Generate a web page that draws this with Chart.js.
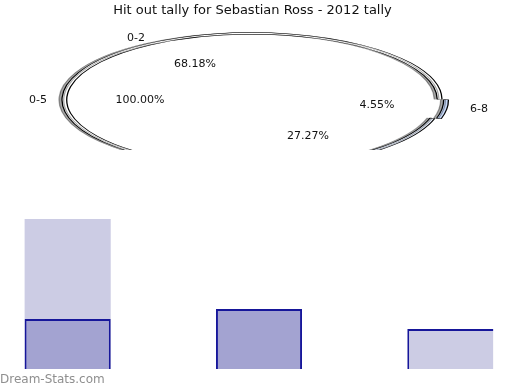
<!DOCTYPE html>
<html>
<head>
<meta charset="utf-8">
<script src="https://cdn.jsdelivr.net/npm/chart.js@4"></script>
<style>
    body { margin: 0; width: 520px; height: 390px; overflow: hidden; background: #fff; position: relative; font-family: "DejaVu Sans", sans-serif; }
    #pie-chart { position: absolute; left: 0; top: 0; width: 520px; height: 390px; }
    #bar-wrap { position: absolute; left: -28px; top: 199px; width: 574px; height: 170px; }
    #credit { position: absolute; left: 0; top: 372px; font-size: 12px; color: #8f8f8f; }
</style>
</head>
<body>
<canvas id="pie-chart" width="520" height="390"></canvas>
<div id="bar-wrap"><canvas id="bar-chart"></canvas></div>
<div id="credit">Dream-Stats.com</div>
<script>
// chart data
const titleText = 'Hit out tally for Sebastian Ross - 2012 tally';
const sliceNames = ['0-2', '6-8', '3-5'];
const sliceValues = [68.18, 4.55, 27.27];
const rangeLabels = ['0-2', '0-5', '6-8'];
const pctLabels = ['68.18%', '100.00%', '4.55%', '27.27%'];
const barCategories = ['0-2', '3-5', '6-8'];
const barLight = [15, null, 4];
const barDark = [5, 6, null];

document.addEventListener('DOMContentLoaded', function() {
    // squash the doughnut into a flat ellipse and move it under the title
    const ellipsePlugin = {
        id: 'ellipse',
        beforeDatasetsDraw(chart) {
            const arc = chart.getDatasetMeta(0).data[0];
            const ctx = chart.ctx;
            ctx.save();
            ctx.beginPath();
            ctx.rect(0, 0, 520, 150);
            ctx.clip();
            ctx.shadowColor = 'rgba(0, 0, 0, 0.35)';
            ctx.shadowOffsetX = -3;
            ctx.shadowOffsetY = 0;
            ctx.translate(252, 100);
            ctx.scale(1, 0.355);
            ctx.translate(-arc.x, -arc.y);
        },
        afterDatasetsDraw(chart) {
            chart.ctx.restore();
        },
        afterDraw(chart) {
            const ctx = chart.ctx;
            ctx.save();
            ctx.font = '11px "DejaVu Sans"';
            ctx.fillStyle = '#111';
            ctx.textAlign = 'center';
            ctx.textBaseline = 'middle';
            const rangePos = [[136, 38], [38, 100], [479, 109]];
            rangeLabels.forEach((t, i) => ctx.fillText(t, rangePos[i][0], rangePos[i][1]));
            const pctPos = [[195, 64], [140, 100], [377, 105], [308, 136]];
            pctLabels.forEach((t, i) => ctx.fillText(t, pctPos[i][0], pctPos[i][1]));
            ctx.restore();
        }
    };

    new Chart(document.getElementById('pie-chart'), {
        type: 'doughnut',
        data: {
            labels: sliceNames,
            datasets: [{
                data: sliceValues,
                backgroundColor: ['#ffffff', '#c6d8f8', '#e8effc'],
                borderColor: '#000',
                borderWidth: 1.3,
                offset: [0, 15, 0],
                radius: 190,
                clip: false
            }]
        },
        options: {
            responsive: false,
            animation: false,
            devicePixelRatio: 1,
            cutout: '97.5%',
            rotation: 204,
            layout: { padding: { top: 0, bottom: 200, left: 0, right: 15 } },
            plugins: {
                legend: { display: false },
                tooltip: { enabled: false },
                title: {
                    display: true,
                    text: titleText,
                    color: '#111',
                    font: { family: 'DejaVu Sans', size: 13, weight: 'normal' },
                    padding: { top: 3, bottom: 4 }
                }
            }
        },
        plugins: [ellipsePlugin]
    });

    new Chart(document.getElementById('bar-chart'), {
        type: 'bar',
        data: {
            labels: barCategories,
            datasets: [{
                data: barDark,
                backgroundColor: '#a3a3d1',
                borderColor: '#16169a',
                borderWidth: { top: 2, left: 2, right: 2, bottom: 0 },
                grouped: false,
                barPercentage: 0.45,
                categoryPercentage: 1
            }, {
                data: barLight,
                backgroundColor: '#ccccE4',
                borderColor: '#16169a',
                borderWidth: ctx => ctx.dataIndex === 2 ? { top: 2, left: 2, right: 0, bottom: 0 } : 0,
                grouped: false,
                barPercentage: 0.45,
                categoryPercentage: 1
            }]
        },
        options: {
            responsive: true,
            maintainAspectRatio: false,
            animation: false,
            layout: { padding: 0 },
            scales: {
                x: { display: false },
                y: { display: false, min: 0, max: 17 }
            },
            plugins: {
                legend: { display: false },
                tooltip: { enabled: false }
            }
        }
    });
});
</script>
</body>
</html>
